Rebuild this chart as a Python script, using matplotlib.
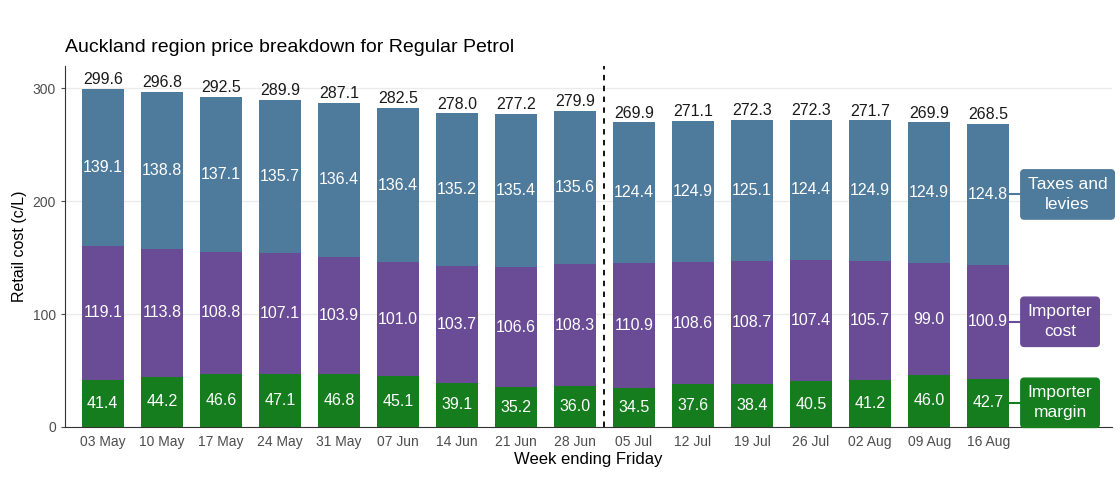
import matplotlib.pyplot as plt
import numpy as np

plt.rcParams['font.family'] = ['Liberation Sans', 'DejaVu Sans']

weeks = ['03 May', '10 May', '17 May', '24 May', '31 May', '07 Jun', '14 Jun', '21 Jun',
         '28 Jun', '05 Jul', '12 Jul', '19 Jul', '26 Jul', '02 Aug', '09 Aug', '16 Aug']
margin = [41.4, 44.2, 46.6, 47.1, 46.8, 45.1, 39.1, 35.2, 36.0, 34.5, 37.6, 38.4, 40.5, 41.2, 46.0, 42.7]
cost = [119.1, 113.8, 108.8, 107.1, 103.9, 101.0, 103.7, 106.6, 108.3, 110.9, 108.6, 108.7, 107.4, 105.7, 99.0, 100.9]
taxes = [139.1, 138.8, 137.1, 135.7, 136.4, 136.4, 135.2, 135.4, 135.6, 124.4, 124.9, 125.1, 124.4, 124.9, 124.9, 124.8]
totals = [299.6, 296.8, 292.5, 289.9, 287.1, 282.5, 278.0, 277.2, 279.9, 269.9, 271.1, 272.3, 272.3, 271.7, 269.9, 268.5]

green = '#157D1E'
purple = '#6A4C96'
blue = '#4E7A9B'

fig = plt.figure(figsize=(11.2, 4.84), dpi=100)
ax = fig.add_axes([0.058, 0.118, 0.935, 0.746])

x = np.arange(len(weeks))
m = np.array(margin)
c = np.array(cost)
t = np.array(taxes)
w = 0.71

ax.bar(x, m, w, color=green, zorder=2)
ax.bar(x, c, w, bottom=m, color=purple, zorder=2)
ax.bar(x, t, w, bottom=m + c, color=blue, zorder=2)

for i in x:
    ax.text(i, m[i] / 2, f'{m[i]:.1f}', ha='center', va='center', color='white', fontsize=11.5)
    ax.text(i, m[i] + c[i] / 2, f'{c[i]:.1f}', ha='center', va='center', color='white', fontsize=11.5)
    ax.text(i, m[i] + c[i] + t[i] / 2, f'{t[i]:.1f}', ha='center', va='center', color='white', fontsize=11.5)
    ax.text(i, m[i] + c[i] + t[i] + 1.5, f'{totals[i]:.1f}', ha='center', va='bottom',
            color='#1a1a1a', fontsize=11.5)

# policy change marker
ax.axvline(8.5, color='black', ls=(0, (3, 3)), lw=1.3, zorder=3)

# labels on the right
last = len(weeks) - 1
labs = [('Taxes and\nlevies', m[last] + c[last] + t[last] / 2, blue),
        ('Importer\ncost', m[last] + c[last] / 2, purple),
        ('Importer\nmargin', m[last] / 2, green)]
for txt, yy, col in labs:
    ax.plot([last + w / 2, last + 0.6], [yy, yy], color=col, lw=1.5, zorder=2)
    ax.text(last + 0.67, yy, txt, ha='left', va='center', color='white', fontsize=12.5,
            linespacing=1.45, multialignment='center',
            bbox=dict(boxstyle='round,pad=0.4,rounding_size=0.2', fc=col, ec=col))

ax.set_xlim(-0.64, 17.1)
ax.set_ylim(0, 320)
ax.set_yticks([0, 100, 200, 300])
ax.set_xticks(x)
ax.set_xticklabels(weeks)
ax.tick_params(axis='both', colors='#4d4d4d', labelsize=10, length=3)
ax.tick_params(axis='x', length=0, pad=6)
ax.grid(axis='y', color='#ebebeb', lw=1, zorder=0)
for s in ['top', 'right']:
    ax.spines[s].set_visible(False)
ax.spines['left'].set_color('#333333')
ax.spines['bottom'].set_color('#333333')

ax.set_ylabel('Retail cost (c/L)', fontsize=11.5)
ax.set_xlabel('Week ending Friday', fontsize=12, labelpad=2)
ax.set_title('Auckland region price breakdown for Regular Petrol', loc='left', fontsize=14, pad=10,
             x=0.0)

fig.savefig('out.png')
